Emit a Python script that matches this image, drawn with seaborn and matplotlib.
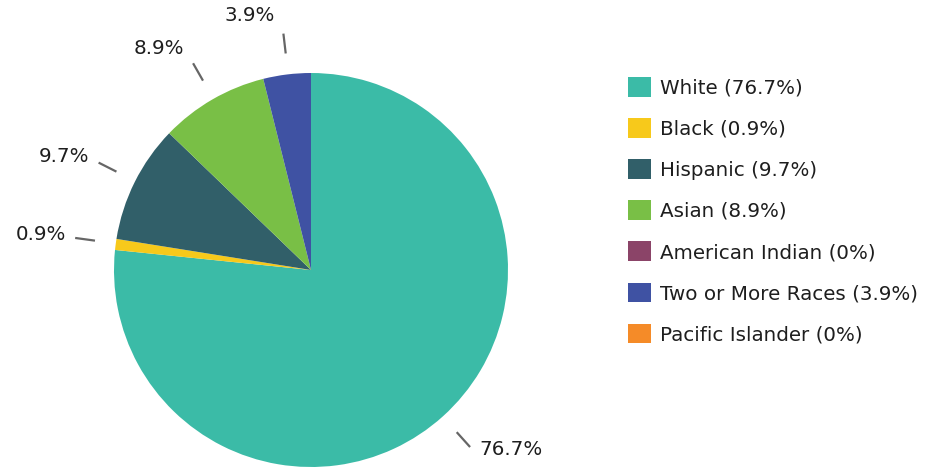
import numpy as np
import matplotlib
matplotlib.use("Agg")
import matplotlib.pyplot as plt
import seaborn as sns

categories = ["White", "Black", "Hispanic", "Asian", "American Indian",
              "Two or More Races", "Pacific Islander"]
shares = [76.7, 0.9, 9.7, 8.9, 0.0, 3.9, 0.0]
colors = ["#3bbba7", "#f7c91b", "#315f69", "#79bf46", "#8b4468",
          "#3f52a3", "#f58b28"]

sns.set_theme(style="white")
plt.rcParams["font.family"] = ["DejaVu Sans"]

W, H = 932, 468
FS = 14.3
TXT = "#1e1e1e"
fig = plt.figure(figsize=(W / 100, H / 100), dpi=100)
ax = fig.add_axes([0, 0, 1, 1])

cx, cy, r = 311, H - 270, 197
wedges, _ = ax.pie(shares, colors=colors, startangle=90, counterclock=False,
                   center=(cx, cy), radius=r, frame=True,
                   wedgeprops=dict(linewidth=0))
ax.set_xlim(0, W)
ax.set_ylim(0, H)
ax.set_aspect("equal")
ax.axis("off")

# percentage labels with short connector lines
start = 90.0
for val in shares:
    span = val * 3.6
    if val > 0:
        mid = np.deg2rad(start - span / 2)
        dx, dy = np.cos(mid), np.sin(mid)
        x0, y0 = cx + dx * (r + 21), cy + dy * (r + 21)
        x1, y1 = cx + dx * (r + 41), cy + dy * (r + 41)
        ax.plot([x0, x1], [y0, y1], color="#666666", lw=1.6,
                solid_capstyle="butt")
        side = 1 if dx > 0 else -1
        ty = y1 + 15 * dy ** 2 + 3 if dy > 0 else y1 - 2
        ax.text(x1 + side * 9, ty, f"{val:g}%",
                ha="left" if side > 0 else "right", va="center",
                fontsize=FS, color=TXT)
    start -= span

labels = [f"{c} ({v:g}%)" for c, v in zip(categories, shares)]
leg = ax.legend(wedges, labels, loc="upper left",
                bbox_to_anchor=(628 / W, 1 - 77 / H),
                bbox_transform=fig.transFigure, frameon=False,
                fontsize=FS, handlelength=1.16, handleheight=1.16,
                handletextpad=0.45, labelspacing=1.03, borderpad=0,
                borderaxespad=0)
for t in leg.get_texts():
    t.set_color(TXT)

fig.savefig("out.png", dpi=100)
